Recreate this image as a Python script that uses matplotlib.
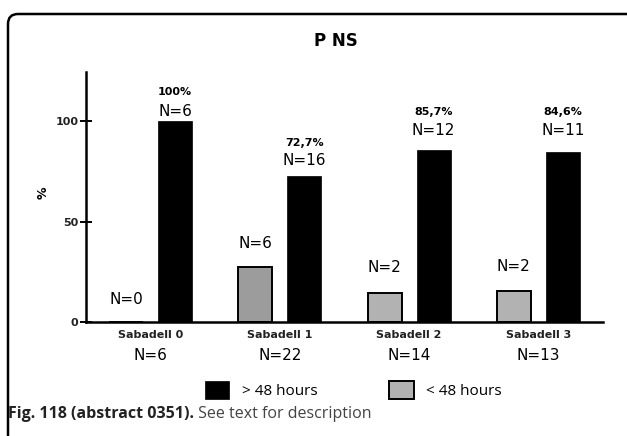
import matplotlib
matplotlib.use("Agg")
import matplotlib.pyplot as plt
from matplotlib.patches import FancyBboxPatch, Patch
import numpy as np

# ---- data ----
groups = ["Sabadell 0", "Sabadell 1", "Sabadell 2", "Sabadell 3"]
group_n = ["N=6", "N=22", "N=14", "N=13"]
under48 = [0.0, 27.3, 14.3, 15.4]          # < 48 hours (%)
under48_n = ["N=0", "N=6", "N=2", "N=2"]
over48 = [100.0, 72.7, 85.7, 84.6]         # > 48 hours (%)
over48_n = ["N=6", "N=16", "N=12", "N=11"]
over48_pct = ["100%", "72,7%", "85,7%", "84,6%"]
title = "P NS"
legend_labels = ["> 48 hours", "< 48 hours"]
caption_bold = "Fig. 118 (abstract 0351)."
caption_rest = " See text for description"

W, H = 627, 436
fig = plt.figure(figsize=(W / 100, H / 100), dpi=100)
fig.patch.set_facecolor("white")

# background overlay in pixel coordinates for frame
bg = fig.add_axes([0, 0, 1, 1], zorder=0)
bg.set_xlim(0, W)
bg.set_ylim(H, 0)
bg.axis("off")
frame = FancyBboxPatch((8, 14), 700, 500, boxstyle="round,pad=0,rounding_size=10",
                       fill=False, edgecolor="black", linewidth=1.8, clip_on=False)
bg.add_patch(frame)

# main axes: x 86..603 px, y 322..72 px
ax = fig.add_axes([86 / W, (H - 322) / H, (603 - 86) / W, (322 - 72) / H], zorder=1)
ax.patch.set_alpha(0)
x = np.arange(len(groups))
bw = 0.264
off = 0.19
gray_cols = ["#b2b2b2", "#9c9c9c", "#b2b2b2", "#b2b2b2"]
gbars = ax.bar(x - off, under48, width=bw, color=gray_cols, edgecolor="black", linewidth=1.4, zorder=2)
kbars = ax.bar(x + off, over48, width=bw, color="black", edgecolor="black", linewidth=0.5, zorder=2)

ax.set_xlim(-0.5, 3.5)
ax.set_ylim(0, 124.4)
ax.set_yticks([0, 50, 100])
ax.set_yticklabels(["0", "50", "100"], fontsize=8, fontweight="bold", color="#222222")
ax.tick_params(axis="y", direction="inout", length=9, width=1.4, pad=1)
ax.set_xticks(x)
ax.set_xticklabels(groups, fontsize=8, fontweight="bold", color="#222222")
ax.tick_params(axis="x", length=0, pad=6)
for s in ["top", "right"]:
    ax.spines[s].set_visible(False)
for s in ["left", "bottom"]:
    ax.spines[s].set_linewidth(1.8)
ax.set_ylabel("%", fontsize=9, fontweight="bold")
ax.yaxis.set_label_coords(-0.07, 0.516)

# group N labels under tick labels
for xi, t in zip(x, group_n):
    ax.annotate(t, xy=(xi, 0), xycoords=("data", "axes fraction"), xytext=(0, -24),
                textcoords="offset points", ha="center", va="center", fontsize=11)

# labels above bars (offsets in % units, hand-placed in original)
gray_off = [11, 12, 13, 12]
n_off = [4.5, 7.5, 9.5, 10.5]
p_off = [14.5, 16.5, 19, 20]
for xi, v, t, go in zip(x, under48, under48_n, gray_off):
    ax.text(xi - off, v + go, t, ha="center", va="center", fontsize=11)
for xi, v, tn, tp, no, po in zip(x, over48, over48_n, over48_pct, n_off, p_off):
    ax.text(xi + off, v + no, tn, ha="center", va="center", fontsize=11)
    ax.text(xi + off, v + po, tp, ha="center", va="center", fontsize=8, fontweight="bold")

# title
fig.text(336 / W, 1 - 41 / H, title, ha="center", va="center", fontsize=12, fontweight="bold")

# legend
handles = [Patch(facecolor="black", edgecolor="black", linewidth=0.5),
           Patch(facecolor="#b2b2b2", edgecolor="black", linewidth=1.4)]
fig.legend(handles, legend_labels, loc="center left", bbox_to_anchor=(205 / W, 1 - 390 / H),
           ncol=2, frameon=False, prop={"family": "Open Sans", "size": 11},
           handlelength=1.6, handleheight=1.5, handletextpad=0.8, columnspacing=4.7,
           borderpad=0, borderaxespad=0)

# caption
t1 = fig.text(8 / W, 1 - 414 / H, caption_bold, ha="left", va="center", fontsize=11.5,
              fontweight="bold", family="Open Sans", color="#222222")
fig.canvas.draw()
bb = t1.get_window_extent()
fig.text(bb.x1 / W, 1 - 414 / H, caption_rest, ha="left", va="center", fontsize=11.5,
         family="Open Sans", color="#444444")

fig.savefig("out.png", dpi=100)
